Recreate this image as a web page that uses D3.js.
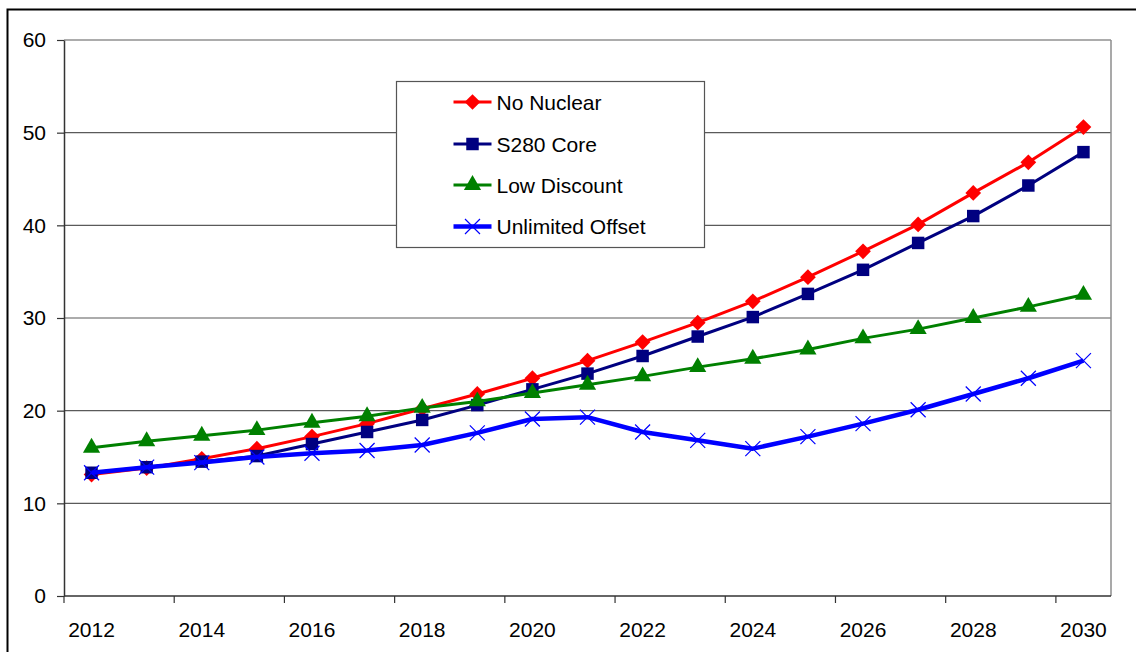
<!DOCTYPE html>
<html>
<head>
<meta charset="utf-8">
<script src="https://cdn.jsdelivr.net/npm/d3@7"></script>
<style>
  html, body { margin: 0; padding: 0; background: #fff; }
  svg { display: block; font-family: "Liberation Sans", Arial, sans-serif; }
</style>
</head>
<body>
<svg id="chart" width="1136" height="652"></svg>
<script>
// Categories (years) and tick labels
const years = [2012, 2013, 2014, 2015, 2016, 2017, 2018, 2019, 2020, 2021,
               2022, 2023, 2024, 2025, 2026, 2027, 2028, 2029, 2030];
const yearLabels = [2012, 2014, 2016, 2018, 2020, 2022, 2024, 2026, 2028, 2030];
const yTicks = [0, 10, 20, 30, 40, 50, 60];

// Series values
const noNuclear = [13.1, 13.8, 14.8, 15.9, 17.2, 18.6, 20.2, 21.8, 23.5, 25.4,
                   27.4, 29.5, 31.8, 34.4, 37.2, 40.1, 43.5, 46.8, 50.6];
const s280Core = [13.3, 13.9, 14.5, 15.1, 16.4, 17.7, 19.0, 20.6, 22.3, 24.0,
                  25.9, 28.0, 30.1, 32.6, 35.2, 38.1, 41.0, 44.3, 47.9];
const lowDiscount = [16.0, 16.7, 17.3, 17.9, 18.7, 19.4, 20.3, 21.0, 21.9, 22.8,
                     23.7, 24.7, 25.6, 26.6, 27.8, 28.8, 30.0, 31.2, 32.5];
const unlimitedOffset = [13.3, 13.9, 14.4, 15.0, 15.4, 15.7, 16.3, 17.6, 19.1, 19.3,
                         17.7, 16.8, 15.9, 17.2, 18.6, 20.1, 21.8, 23.5, 25.4];

const seriesNames = ["No Nuclear", "S280 Core", "Low Discount", "Unlimited Offset"];

const series = [
  { name: seriesNames[0], values: noNuclear, color: "#ff0000", width: 3, marker: "diamond" },
  { name: seriesNames[1], values: s280Core, color: "#000080", width: 3, marker: "square" },
  { name: seriesNames[2], values: lowDiscount, color: "#008000", width: 3, marker: "triangle" },
  { name: seriesNames[3], values: unlimitedOffset, color: "#0000ff", width: 4.5, marker: "cross" }
];

const svg = d3.select("#chart");
const plot = { left: 64, right: 1111, top: 40, bottom: 596 };

// Outer chart frame
svg.append("rect")
  .attr("x", 7.5).attr("y", 9.5)
  .attr("width", 1140).attr("height", 660)
  .attr("fill", "#fff").attr("stroke", "#000").attr("stroke-width", 2);

const x = d3.scaleBand().domain(years).range([plot.left, plot.right]).padding(0);
const y = d3.scaleLinear().domain([0, 60]).range([plot.bottom, plot.top]);
const cx = yr => x(yr) + x.bandwidth() / 2;

// Horizontal gridlines
svg.append("g")
  .selectAll("line")
  .data(yTicks.filter(t => t > 0))
  .join("line")
  .attr("x1", plot.left).attr("x2", plot.right)
  .attr("y1", d => y(d)).attr("y2", d => y(d))
  .attr("stroke", "#5a5a5a").attr("stroke-width", 1.2);

// Plot area right border
svg.append("line")
  .attr("x1", plot.right).attr("x2", plot.right)
  .attr("y1", plot.top).attr("y2", plot.bottom)
  .attr("stroke", "#8c8c8c").attr("stroke-width", 1.5);

// Y axis
const yAxis = svg.append("g")
  .attr("transform", `translate(${plot.left},0)`)
  .call(d3.axisLeft(y).tickValues(yTicks).tickSize(7).tickPadding(11).tickSizeOuter(0));
yAxis.select(".domain").attr("stroke", "#333").attr("stroke-width", 1.5);
yAxis.selectAll(".tick line").attr("stroke", "#333").attr("stroke-width", 1.2);
yAxis.selectAll(".tick text")
  .attr("font-size", 21).attr("fill", "#000")
  .attr("font-family", "'Liberation Sans', Arial, sans-serif");

// X axis: tick marks on category boundaries, labels centred in categories
const xAxisG = svg.append("g").attr("transform", `translate(0,${plot.bottom})`);
xAxisG.append("line")
  .attr("x1", plot.left).attr("x2", plot.right)
  .attr("y1", 0).attr("y2", 0)
  .attr("stroke", "#333").attr("stroke-width", 1.5);
xAxisG.selectAll("line.tick")
  .data(yearLabels)
  .join("line")
  .attr("class", "tick")
  .attr("x1", d => x(d)).attr("x2", d => x(d))
  .attr("y1", 0).attr("y2", 7)
  .attr("stroke", "#333").attr("stroke-width", 1.2);
xAxisG.selectAll("text")
  .data(yearLabels)
  .join("text")
  .attr("x", d => cx(d))
  .attr("y", 41)
  .attr("text-anchor", "middle")
  .attr("font-size", 21)
  .attr("fill", "#000")
  .text(d => d);

// Marker drawing
function drawMarker(g, type, color) {
  if (type === "diamond") {
    g.append("path")
      .attr("d", d3.symbol(d3.symbolSquare, 124)())
      .attr("transform", "rotate(45)")
      .attr("fill", color);
  } else if (type === "square") {
    g.append("path")
      .attr("d", d3.symbol(d3.symbolSquare, 156)())
      .attr("fill", color);
  } else if (type === "triangle") {
    g.append("path")
      .attr("d", d3.symbol(d3.symbolTriangle, 128)())
      .attr("fill", color);
  } else if (type === "cross") {
    g.append("path")
      .attr("d", "M-7.5,-7.5L7.5,7.5M-7.5,7.5L7.5,-7.5")
      .attr("stroke", color).attr("stroke-width", 1.2).attr("fill", "none");
  }
}

const line = d3.line().x(d => cx(d.year)).y(d => y(d.value));

series.forEach(s => {
  const pts = years.map((yr, i) => ({ year: yr, value: s.values[i] }));
  const g = svg.append("g");
  g.append("path")
    .datum(pts)
    .attr("d", line)
    .attr("fill", "none")
    .attr("stroke", s.color)
    .attr("stroke-width", s.width)
    .attr("stroke-linejoin", "round");
  g.selectAll("g.pt")
    .data(pts)
    .join("g")
    .attr("class", "pt")
    .attr("transform", d => `translate(${cx(d.year)},${y(d.value)})`)
    .each(function () { drawMarker(d3.select(this), s.marker, s.color); });
});

// Legend
const legend = svg.append("g").attr("transform", "translate(396.5,81.5)");
legend.append("rect")
  .attr("width", 308).attr("height", 166)
  .attr("fill", "#fff").attr("stroke", "#555").attr("stroke-width", 1.2);
const rowY = [20.5, 62.5, 103.5, 145];
series.forEach((s, i) => {
  const row = legend.append("g").attr("transform", `translate(0,${rowY[i]})`);
  row.append("line")
    .attr("x1", 57).attr("x2", 95)
    .attr("y1", 0).attr("y2", 0)
    .attr("stroke", s.color).attr("stroke-width", s.width);
  const m = row.append("g").attr("transform", "translate(76,0)");
  drawMarker(m, s.marker, s.color);
  row.append("text")
    .attr("x", 100).attr("y", 0)
    .attr("dy", "0.36em")
    .attr("font-size", 21)
    .attr("fill", "#000")
    .text(s.name);
});
</script>
</body>
</html>
